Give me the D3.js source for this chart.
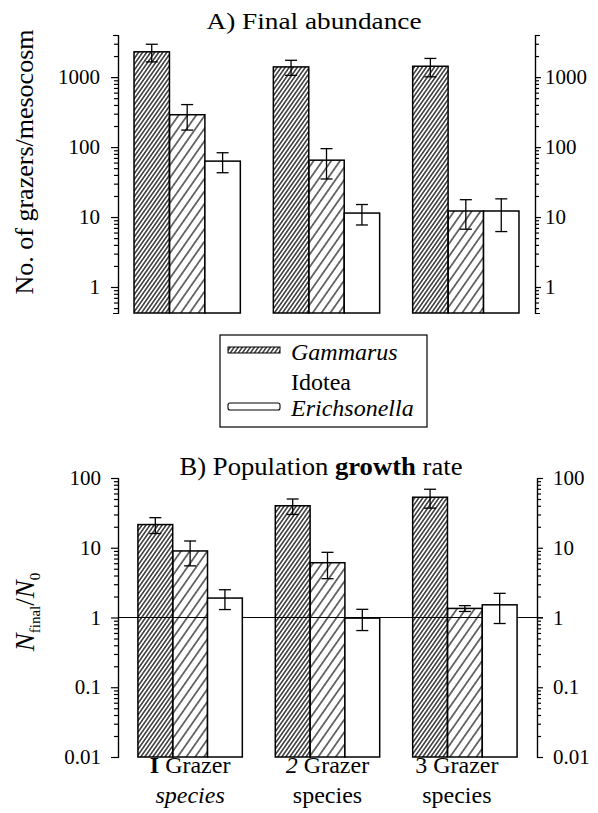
<!DOCTYPE html>
<html>
<head>
<meta charset="utf-8">
<script src="https://cdn.jsdelivr.net/npm/d3@7"></script>
<style>
  body { margin: 0; background: #fff; }
  svg { display: block; }
</style>
</head>
<body>
<svg id="chart" width="598" height="813"></svg>
<script>
// --- data ---
const groups = ['1 Grazer species', '2 Grazer species', '3 Grazer species'];
const species = ['Gammarus', 'Idotea', 'Erichsonella'];

// A) final abundance, grazers per mesocosm (rows = group, cols = species)
const abundance   = [[2300, 290, 63], [1400, 65, 11.4], [1430, 12.2, 12.2]];
const abundanceSE = [[650, 115, 20], [340, 30, 3.7], [420, 5.5, 6]];

// B) population growth rate, N_final / N_0
const growth   = [[21.5, 9.0, 1.9], [40, 6.1, 0.98], [53, 1.35, 1.52]];
const growthSE = [[5.5, 3.5, 0.6], [10, 2.5, 0.33], [16, 0.13, 0.7]];

const ticksA = [1, 10, 100, 1000];
const tickLabelsA = ['1', '10', '100', '1000'];
const ticksB = [0.01, 0.1, 1, 10, 100];
const tickLabelsB = ['0.01', '0.1', '1', '10', '100'];

const FONT = '"Liberation Serif"';
const svg = d3.select('#chart');

// hatch fills
const defs = svg.append('defs');
function hatch(id, gap, sw) {
  defs.append('pattern')
    .attr('id', id)
    .attr('patternUnits', 'userSpaceOnUse')
    .attr('width', gap).attr('height', gap)
    .attr('patternTransform', 'rotate(35)')
    .append('line')
    .attr('x1', gap / 2).attr('x2', gap / 2)
    .attr('y1', 0).attr('y2', gap)
    .attr('stroke', '#000').attr('stroke-width', sw);
}
hatch('h-gammarus', 3.3, 1.2);
hatch('h-idotea', 7.2, 1.1);
const fills = { Gammarus: 'url(#h-gammarus)', Idotea: 'url(#h-idotea)', Erichsonella: '#fff' };

function drawAxis(g, axis, labelSize) {
  g.call(axis)
    .call(s => s.selectAll('path, line').attr('stroke', '#000').attr('stroke-width', 1.2))
    .call(s => s.selectAll('text')
      .attr('fill', '#000')
      .style('font-size', labelSize + 'px'));
}

function panel(cfg) {
  const y = d3.scaleLog().domain(cfg.domain).range([cfg.bottom, cfg.top]);
  const x0 = d3.scaleBand().domain(groups)
    .range([cfg.left, cfg.right])
    .paddingInner(cfg.padIn).paddingOuter(cfg.padOut);
  const x1 = d3.scaleBand().domain(species).range([0, x0.bandwidth()]);

  const minor = y.ticks().filter(t => !cfg.ticks.includes(t));
  const fmt = d => cfg.labels[cfg.ticks.indexOf(d)];

  // left axis
  drawAxis(svg.append('g').attr('transform', `translate(${cfg.left},0)`),
    d3.axisLeft(y).tickValues(cfg.ticks).tickFormat(fmt)
      .tickSize(7).tickSizeOuter(5).tickPadding(cfg.padL), 21);
  drawAxis(svg.append('g').attr('transform', `translate(${cfg.left},0)`),
    d3.axisLeft(y).tickValues(minor).tickFormat('').tickSize(4).tickSizeOuter(0), 21);

  // right axis
  drawAxis(svg.append('g').attr('transform', `translate(${cfg.right},0)`),
    d3.axisRight(y).tickValues(cfg.ticks).tickFormat(fmt)
      .tickSize(6).tickSizeOuter(5).tickPadding(cfg.padR), 21);
  drawAxis(svg.append('g').attr('transform', `translate(${cfg.right},0)`),
    d3.axisRight(y).tickValues(minor).tickFormat('').tickSize(4).tickSizeOuter(0), 21);

  if (cfg.refLine) {
    svg.append('line')
      .attr('x1', cfg.left).attr('x2', cfg.right + 6)
      .attr('y1', y(1)).attr('y2', y(1))
      .attr('stroke', '#000').attr('stroke-width', 1.1);
  }

  const rows = [];
  groups.forEach((g, i) => species.forEach((s, j) => {
    rows.push({ g, s, v: cfg.values[i][j], se: cfg.errors[i][j] });
  }));

  svg.append('g').selectAll('rect')
    .data(rows)
    .enter()
    .append('rect')
    .attr('x', d => x0(d.g) + x1(d.s))
    .attr('y', d => y(d.v))
    .attr('width', x1.bandwidth())
    .attr('height', d => cfg.bottom - y(d.v))
    .attr('fill', d => fills[d.s])
    .attr('stroke', '#000')
    .attr('stroke-width', 1.5);

  // error bars
  const eb = svg.append('g').attr('stroke', '#000').attr('stroke-width', 1.3);
  rows.forEach(d => {
    const cx = x0(d.g) + x1(d.s) + x1.bandwidth() / 2;
    const yHi = y(d.v + d.se), yLo = y(d.v - d.se);
    eb.append('line').attr('x1', cx).attr('x2', cx).attr('y1', yHi).attr('y2', yLo);
    eb.append('line').attr('x1', cx - 6).attr('x2', cx + 6).attr('y1', yHi).attr('y2', yHi);
    eb.append('line').attr('x1', cx - 6).attr('x2', cx + 6).attr('y1', yLo).attr('y2', yLo);
  });

  return { x0, y };
}

// Panel A
panel({
  domain: [0.425, 4000], top: 35, bottom: 313,
  left: 118, right: 535, padIn: 0.237, padOut: 0.115,
  ticks: ticksA, labels: tickLabelsA, padL: 11, padR: 4,
  values: abundance, errors: abundanceSE
});

// Panel B
const pB = panel({
  domain: [0.01, 100], top: 478, bottom: 757,
  left: 118, right: 537, padIn: 0.24, padOut: 0.145,
  ticks: ticksB, labels: tickLabelsB, padL: 10, padR: 10,
  values: growth, errors: growthSE, refLine: true
});

// titles
svg.append('text')
  .attr('x', 314).attr('y', 29)
  .attr('text-anchor', 'middle')
  .attr('textLength', 215).attr('lengthAdjust', 'spacingAndGlyphs')
  .style('font-size', '24px')
  .text('A) Final abundance');

const tB = svg.append('text')
  .attr('x', 321).attr('y', 475)
  .attr('text-anchor', 'middle')
  .attr('textLength', 283).attr('lengthAdjust', 'spacingAndGlyphs')
  .style('font-size', '25px');
tB.append('tspan').text('B) Population ');
tB.append('tspan').style('font-weight', 'bold').text('growth');
tB.append('tspan').text(' rate');

// y labels
svg.append('text')
  .attr('transform', 'translate(33,162) rotate(-90)')
  .attr('text-anchor', 'middle')
  .style('font-size', '26px')
  .text('No. of grazers/mesocosm');

const yB = svg.append('text')
  .attr('transform', 'translate(34,612) rotate(-90)')
  .attr('text-anchor', 'middle')
  .style('font-size', '27px');
yB.append('tspan').style('font-style', 'italic').text('N');
yB.append('tspan').style('font-size', '15px').attr('dy', 6).text('final');
yB.append('tspan').attr('dy', -6).text('/');
yB.append('tspan').style('font-style', 'italic').text('N');
yB.append('tspan').style('font-size', '15px').attr('dy', 6).text('0');

// x labels
const xl = svg.append('g').style('font-size', '24px').attr('text-anchor', 'middle');
const xNums = ['I', '2', '3'];
groups.forEach((g, i) => {
  const cx = pB.x0(g) + pB.x0.bandwidth() / 2 - (i === 2 ? 8 : 0);
  const t1 = xl.append('text').attr('x', cx).attr('y', 773);
  const n = t1.append('tspan').text(xNums[i]);
  if (i === 0) n.style('font-weight', 'bold');
  if (i === 1) n.style('font-style', 'italic');
  t1.append('tspan').text(' Grazer');
  xl.append('text').attr('x', cx).attr('y', 803)
    .style('font-style', i === 0 ? 'italic' : 'normal')
    .text('species');
});

// legend
const lg = svg.append('g');
lg.append('rect')
  .attr('x', 220).attr('y', 335).attr('width', 207).attr('height', 92)
  .attr('fill', '#fff').attr('stroke', '#000').attr('stroke-width', 1.2);
lg.append('rect')
  .attr('x', 228).attr('y', 347).attr('width', 52).attr('height', 6)
  .attr('fill', fills.Gammarus).attr('stroke', '#000').attr('stroke-width', 1);
lg.append('rect')
  .attr('x', 228).attr('y', 403).attr('width', 52).attr('height', 7).attr('rx', 2)
  .attr('fill', '#fff').attr('stroke', '#000').attr('stroke-width', 1.1);
const lgText = [
  { t: species[0], y: 360, italic: true },
  { t: species[1], y: 390, italic: false },
  { t: species[2], y: 416, italic: true }
];
lg.selectAll('text.lg')
  .data(lgText)
  .enter()
  .append('text')
  .attr('class', 'lg')
  .attr('x', 291).attr('y', d => d.y)
  .style('font-size', '24px')
  .style('font-style', d => d.italic ? 'italic' : 'normal')
  .text(d => d.t);

// one serif face for every label
svg.selectAll('text').style('font-family', FONT);
</script>
</body>
</html>
